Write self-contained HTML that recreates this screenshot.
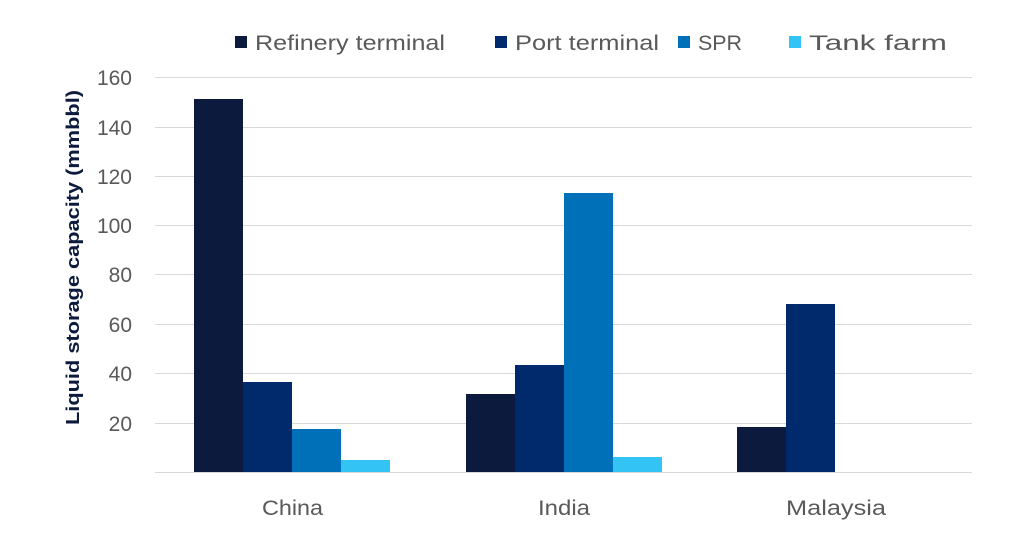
<!DOCTYPE html>
<html><head><meta charset="utf-8"><style>
body{margin:0;background:#fff;}
svg text{font-family:"Liberation Sans",sans-serif;}
</style></head><body>
<svg width="1024" height="538" xmlns="http://www.w3.org/2000/svg">
<g stroke="#d9d9d9" stroke-width="1">
<line x1="155" x2="972" y1="77.5" y2="77.5"/>
<line x1="155" x2="972" y1="127.5" y2="127.5"/>
<line x1="155" x2="972" y1="176.5" y2="176.5"/>
<line x1="155" x2="972" y1="225.5" y2="225.5"/>
<line x1="155" x2="972" y1="274.5" y2="274.5"/>
<line x1="155" x2="972" y1="324.5" y2="324.5"/>
<line x1="155" x2="972" y1="373.5" y2="373.5"/>
<line x1="155" x2="972" y1="423.5" y2="423.5"/>
<line x1="155" x2="972" y1="472.5" y2="472.5"/>
</g>
<g font-size="21" fill="#595959" text-anchor="end">
<text x="132" y="85">160</text>
<text x="132" y="135">140</text>
<text x="132" y="184">120</text>
<text x="132" y="233">100</text>
<text x="132" y="282">80</text>
<text x="132" y="332">60</text>
<text x="132" y="381">40</text>
<text x="132" y="431">20</text>
</g>
<text transform="translate(79,425) rotate(-90)" font-size="18" font-weight="bold" fill="#0c1a3e" textLength="335" lengthAdjust="spacingAndGlyphs">Liquid storage capacity (mmbbl)</text>
<rect x="194" y="99" width="49" height="373" fill="#0c1a3e"/>
<rect x="243" y="382" width="49" height="90" fill="#002a6b"/>
<rect x="292" y="429" width="49" height="43" fill="#0070b8"/>
<rect x="341" y="460" width="49" height="12" fill="#33c3f5"/>
<rect x="466" y="394" width="49" height="78" fill="#0c1a3e"/>
<rect x="515" y="365" width="49" height="107" fill="#002a6b"/>
<rect x="564" y="193" width="49" height="279" fill="#0070b8"/>
<rect x="613" y="457" width="49" height="15" fill="#33c3f5"/>
<rect x="737" y="427" width="49" height="45" fill="#0c1a3e"/>
<rect x="786" y="304" width="49" height="168" fill="#002a6b"/>
<g font-size="21" fill="#595959">
<text x="262" y="515" textLength="61" lengthAdjust="spacingAndGlyphs">China</text>
<text x="538" y="515" textLength="52" lengthAdjust="spacingAndGlyphs">India</text>
<text x="786" y="515" textLength="100" lengthAdjust="spacingAndGlyphs">Malaysia</text>
</g>
<g font-size="21" fill="#595959">
<rect x="235" y="36" width="12" height="12" fill="#0c1a3e"/><text x="255" y="50" textLength="190" lengthAdjust="spacingAndGlyphs">Refinery terminal</text>
<rect x="495" y="36" width="12" height="12" fill="#002a6b"/><text x="515" y="50" textLength="144" lengthAdjust="spacingAndGlyphs">Port terminal</text>
<rect x="678" y="36" width="12" height="12" fill="#0070b8"/><text x="698" y="50" textLength="44" lengthAdjust="spacingAndGlyphs">SPR</text>
<rect x="789" y="36" width="12" height="12" fill="#33c3f5"/><text x="809" y="50" textLength="138" lengthAdjust="spacingAndGlyphs">Tank farm</text>
</g>
</svg>
</body></html>
